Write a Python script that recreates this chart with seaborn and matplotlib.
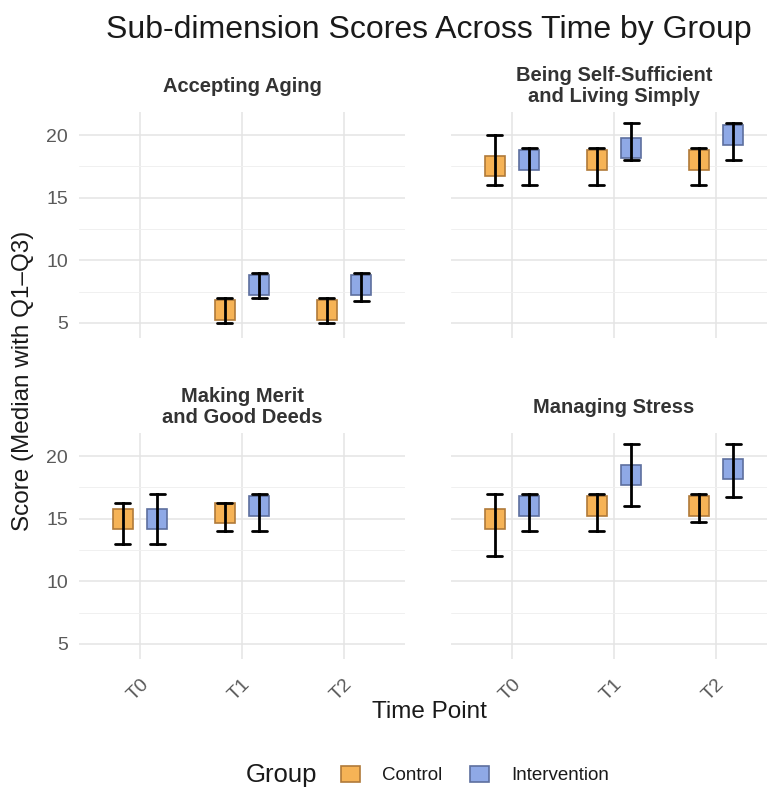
import numpy as np
import pandas as pd
import matplotlib
matplotlib.use("Agg")
import matplotlib.pyplot as plt
from matplotlib.ticker import MultipleLocator
from matplotlib.patches import Patch
import seaborn as sns

nan = np.nan

# Sub-dimensions, strip labels, time points and groups
dimensions = ["Accepting Aging", "Being Self-Sufficient and Living Simply",
              "Making Merit and Good Deeds", "Managing Stress"]
strip_labels = ["Accepting Aging", "Being Self-Sufficient\nand Living Simply",
                "Making Merit\nand Good Deeds", "Managing Stress"]
time_points = ["T0", "T1", "T2"]
groups = ["Control", "Intervention"]

# Median, Q1 and Q3 per sub-dimension (rows) and time point (columns)
ctrl_median = [[nan, 6, 6], [17.5, 18, 18], [15, 15.5, nan], [15, 16, 16]]
ctrl_q1 = [[nan, 5, 5], [16, 16, 16], [13, 14, nan], [12, 14, 14.75]]
ctrl_q3 = [[nan, 7, 7], [20, 19, 19], [16.25, 16.25, nan], [17, 17, 17]]
int_median = [[nan, 8, 8], [18, 19, 20], [15, 16, nan], [16, 18.5, 19]]
int_q1 = [[nan, 7, 6.75], [16, 18, 18], [13, 14, nan], [14, 16, 16.75]]
int_q3 = [[nan, 9, 9], [19, 21, 21], [17, 17, nan], [17, 21, 21]]

fill_colors = {"Control": "#F6B356", "Intervention": "#8FA9E6"}
edge_colors = {"Control": "#B07A3A", "Intervention": "#5D6F9E"}

# Long table: one row per summary statistic so that the median of the three
# rows is the median and their min/max span Q1-Q3
records = []
stats = {"Control": (ctrl_q1, ctrl_median, ctrl_q3),
         "Intervention": (int_q1, int_median, int_q3)}
for g in groups:
    q1, med, q3 = stats[g]
    for d, dim in enumerate(dimensions):
        for t, tp in enumerate(time_points):
            if np.isnan(med[d][t]):
                continue
            for name, arr in (("q1", q1), ("median", med), ("q3", q3)):
                records.append({"dimension": dim, "time": tp, "group": g,
                                "stat": name, "score": arr[d][t]})
df = pd.DataFrame(records)

sns.set_theme(style="white")
plt.rcParams["font.family"] = ["Liberation Sans", "DejaVu Sans"]

W, H = 767, 787
fig = plt.figure(figsize=(W / 100, H / 100), dpi=100)

col_left = [79, 451]
row_top = [112, 433]
panel_w, panel_h = 326, 226

axes = []
for i, dim in enumerate(dimensions):
    r, c = divmod(i, 2)
    x0 = col_left[c] / W
    y0 = 1 - (row_top[r] + panel_h) / H
    ax = fig.add_axes([x0, y0, panel_w / W, panel_h / H])
    axes.append(ax)
    sub = df[df["dimension"] == dim]
    sns.pointplot(data=sub, x="time", y="score", hue="group",
                  order=time_points, hue_order=groups,
                  palette=fill_colors, estimator="median",
                  errorbar=lambda v: (v.min(), v.max()),
                  dodge=0.34, markers="s", linestyles="none",
                  capsize=0.15,
                  err_kws={"color": "black", "linewidth": 2.0, "linestyle": "-"},
                  markersize=14.5, markeredgewidth=1.2,
                  legend=False, ax=ax)

    # darker outline on the square markers
    for line in ax.lines:
        if line.get_marker() == "s":
            fc = matplotlib.colors.to_hex(line.get_color())
            for g in groups:
                if fc.lower() == fill_colors[g].lower():
                    line.set_markeredgecolor(edge_colors[g])
                    line.set_markerfacecolor(fill_colors[g])
                    line.set_zorder(2)

    ax.set_xlim(-0.6, 2.6)
    ax.set_ylim(3.8, 21.85)
    ax.yaxis.set_major_locator(MultipleLocator(5))
    ax.yaxis.set_minor_locator(MultipleLocator(2.5))
    ax.set_axisbelow(True)
    ax.grid(which="major", axis="both", color="#e4e4e4", linewidth=1.1)
    ax.grid(which="minor", axis="y", color="#f0f0f0", linewidth=0.7)
    for s in ax.spines.values():
        s.set_visible(False)
    ax.tick_params(which="both", length=0)
    ax.tick_params(axis="y", labelsize=14, labelcolor="#5a5a5a", pad=8)
    ax.tick_params(axis="x", labelsize=14, labelcolor="#5a5a5a", pad=12)
    ax.set_xlabel("")
    ax.set_ylabel("")
    ax.set_yticks([5, 10, 15, 20])
    if r == 0:
        ax.tick_params(axis="x", labelbottom=False)
    else:
        plt.setp(ax.get_xticklabels(), rotation=45, ha="right",
                 rotation_mode="anchor")
    if c == 1:
        ax.tick_params(axis="y", labelleft=False)

    ax.annotate(strip_labels[i], xy=(0.5, 1), xycoords="axes fraction",
                xytext=(0, 18.5), textcoords="offset points",
                ha="center", va="center", fontsize=14.5, fontweight="bold",
                color="#333333", linespacing=1.15)

fig.text(429 / W, 1 - 30 / H, "Sub-dimension Scores Across Time by Group",
         ha="center", va="center", fontsize=23, color="#1a1a1a")
fig.text(23 / W, 1 - 381 / H, "Score (Median with Q1\u2013Q3)", rotation=90,
         ha="center", va="center", fontsize=17.5, color="#1a1a1a")
fig.text(429 / W, 1 - 712 / H, "Time Point", ha="center", va="center",
         fontsize=17.5, color="#1a1a1a")

fig.text(246 / W, 1 - 775 / H, "Group", ha="left", va="center",
         fontsize=18.5, color="#1a1a1a")
handles = [Patch(facecolor=fill_colors[g], edgecolor=edge_colors[g],
                 linewidth=1.2, label=g) for g in groups]
fig.legend(handles=handles, loc="center", ncol=2, frameon=False,
           bbox_to_anchor=(475 / W, 1 - 775 / H), fontsize=13.5,
           handlelength=1.0, handleheight=1.0, handletextpad=1.2,
           columnspacing=1.45, labelcolor="#1a1a1a")

fig.savefig("out.png", dpi=100, facecolor="white")
